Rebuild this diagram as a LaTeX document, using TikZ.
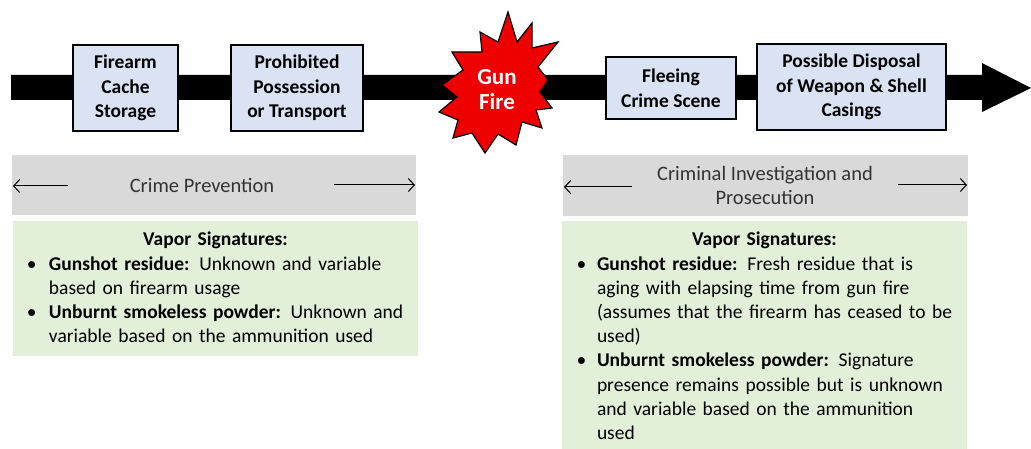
\documentclass[tikz,border=0pt]{standalone}
\usepackage{fontspec}
\setmainfont{Carlito}
\usetikzlibrary{arrows.meta}
\definecolor{boxblue}{HTML}{DAE3F3}
\definecolor{bargray}{HTML}{D9D9D9}
\definecolor{sigGreen}{HTML}{E2F0D9}
\definecolor{txtgray}{HTML}{333333}
\definecolor{fireRed}{HTML}{EE0000}
\newlength{\sighang}
\tikzset{
  stagebox/.style={draw=black, line width=1.3pt, fill=boxblue, align=center, inner sep=0pt,
    font=\fontsize{19.5}{24.5}\selectfont\bfseries},
  phasebar/.style={fill=bargray, inner sep=0pt},
  phasetext/.style={text=txtgray, align=center, inner sep=0pt, font=\fontsize{20.5}{24}\selectfont},
  sigbox/.style={fill=sigGreen, inner sep=0pt},
  sigtext/.style={anchor=north, inner sep=0pt, align=left, font=\fontsize{19.5}{24.2}\selectfont},
  spanarrow/.style={line width=1pt, -{Straight Barb[length=6pt,width=13pt,line width=1pt]}},
}
\newcommand{\sigitem}{\par\raggedright\hangindent=\sighang\hangafter=1\noindent\makebox[\sighang][l]{\textbullet}}
\begin{document}
\begin{tikzpicture}[x=1pt,y=-1pt]
\useasboundingbox (0,0) rectangle (1031,449);
% main time arrow
\coordinate (tailTop) at (11,75);
\coordinate (tailBot) at (11,100);
\coordinate (tip) at (1031,88);
\fill[black] (tailTop) -- (982,75) -- (982,63) -- (tip) -- (982,112) -- (982,100) -- (tailBot) -- cycle;
% stage boxes
\node[stagebox, minimum width=105pt, minimum height=86pt] (cache) at (125.5,88) {Firearm\\Cache\\Storage};
\node[stagebox, minimum width=132pt, minimum height=86pt] (possess) at (297,88) {Prohibited\\Possession\\or Transport};
\node[stagebox, minimum width=130pt, minimum height=62pt] (flee) at (671,88) {Fleeing\\Crime Scene};
\node[stagebox, minimum width=189pt, minimum height=86pt] (dispose) at (851.5,87) {Possible Disposal\\of Weapon \& Shell\\Casings};
% gun fire starburst
\filldraw[fill=fireRed, draw=black, line width=1.2pt, line join=miter]
 (508,12) -- (517,42) -- (532,23) -- (532,48) -- (558,42) -- (538,67) -- (548,80) -- (540,92)
 -- (552,108) -- (536,110) -- (542,128) -- (522,122) -- (516,145) -- (498,134) -- (485,153)
 -- (472,133) -- (453,138) -- (458,120) -- (439,112) -- (457,97) -- (442,85) -- (463,70)
 -- (452,52) -- (482,52) -- (480,32) -- (498,42) -- cycle;
\node[text=white, align=center, inner sep=0pt, font=\fontsize{23}{25}\selectfont\bfseries] (fire) at (497,90) {Gun\\Fire};
% phase bars
\node[phasebar, minimum width=404pt, minimum height=60pt] (prevBar) at (214,185) {};
\node[phasetext] (prevText) at (202,185) {Crime Prevention};
\coordinate (prevL1) at (68,186);
\coordinate (prevL2) at (13,186);
\coordinate (prevR1) at (334,185);
\coordinate (prevR2) at (415,185);
\draw[spanarrow] (prevL1) -- (prevL2);
\draw[spanarrow] (prevR1) -- (prevR2);
\node[phasebar, minimum width=405pt, minimum height=61pt] (invBar) at (765.5,185.5) {};
\node[phasetext] (invText) at (765,185) {Criminal Investigation and\\Prosecution};
\coordinate (invL1) at (632,187);
\coordinate (invL2) at (564,187);
\coordinate (invR1) at (898,185);
\coordinate (invR2) at (967,185);
\draw[spanarrow] (invL1) -- (invL2);
\draw[spanarrow] (invR1) -- (invR2);
% signature boxes
\node[sigbox, minimum width=405pt, minimum height=135pt] (prevSig) at (215.5,288.5) {};
\node[sigbox, minimum width=405pt, minimum height=228pt] (invSig) at (764.5,335) {};
\node[sigtext, text width=377pt] (prevSigText) at (215.5,232) {%
\setlength{\sighang}{22pt}%
\centering\textbf{Vapor Signatures:}%
\sigitem\textbf{Gunshot residue:} Unknown and variable\newline based on firearm usage%
\sigitem\textbf{Unburnt smokeless powder:} Unknown and\newline variable based on the ammunition used\par};
\node[sigtext, text width=376pt] (invSigText) at (764.5,232) {%
\setlength{\sighang}{20.5pt}%
\centering\textbf{Vapor Signatures:}%
\sigitem\textbf{Gunshot residue:} Fresh residue that is\newline aging with elapsing time from gun fire\newline (assumes that the firearm has ceased to be\newline used)%
\sigitem\textbf{Unburnt smokeless powder:} Signature\newline presence remains possible but is unknown\newline and variable based on the ammunition\newline used\par};
\end{tikzpicture}
\end{document}
